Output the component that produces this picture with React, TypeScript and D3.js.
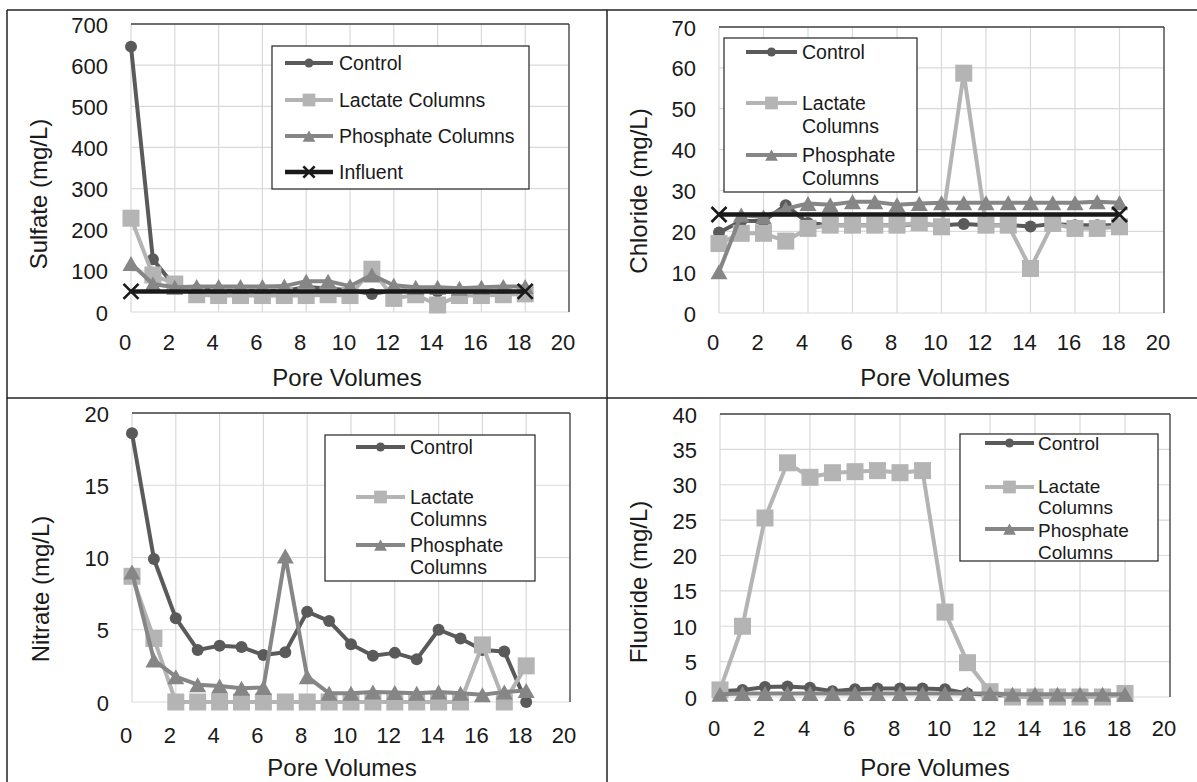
import React from "react";
import * as d3 from "d3";

// ---------- data ----------
const poreVolumes = [0, 1, 2, 3, 4, 5, 6, 7, 8, 9, 10, 11, 12, 13, 14, 15, 16, 17, 18];
const influentPV = [0, 18];
const xTicks = [0, 2, 4, 6, 8, 10, 12, 14, 16, 18, 20];

const sulfateControl = [645, 128, 62, 55, 52, 52, 52, 52, 60, 58, 52, 44, 52, 52, 50, 50, 50, 50, 48];
const sulfateLactate = [228, 90, 68, 42, 40, 40, 40, 40, 40, 42, 40, 104, 33, 42, 17, 40, 40, 42, 44];
const sulfatePhosphate = [118, 68, 60, 62, 62, 62, 62, 63, 75, 75, 63, 90, 65, 60, 60, 58, 60, 62, 62];
const sulfateInfluent = [50, 50];
const sulfateTicks = [0, 100, 200, 300, 400, 500, 600, 700];

const chlorideControl = [19.7, 22.5, 22.5, 26.4, 22, 21.5, 21.5, 21.5, 21.5, 21.8, 21.5, 21.8, 21.5, 21.5, 21.2, 21.8, 21.5, 21.5, 21.5];
const chlorideLactate = [17.0, 19.5, 19.5, 17.6, 20.7, 21.5, 21.5, 21.5, 21.5, 22.1, 21.1, 58.7, 21.5, 21.5, 10.9, 21.9, 20.7, 20.7, 21.1];
const chloridePhosphate = [10.1, 24, 23.5, 25.5, 26.8, 26.5, 27.2, 27.2, 26.5, 26.8, 27, 27, 27, 27, 27, 27, 27, 27.2, 27];
const chlorideInfluent = [24.1, 24.1];
const chlorideTicks = [0, 10, 20, 30, 40, 50, 60, 70];

const nitrateControl = [18.6, 9.9, 5.8, 3.6, 3.9, 3.8, 3.25, 3.45, 6.25, 5.6, 4.0, 3.2, 3.4, 2.95, 5.0, 4.4, 3.6, 3.5, 0];
const nitrateLactate = [8.7, 4.4, 0, 0, 0, 0, 0, 0, 0, 0, 0, 0, 0, 0, 0, 0, 3.95, 0, 2.5];
const nitratePhosphate = [9.0, 2.9, 1.75, 1.2, 1.1, 0.95, 1.0, 10.1, 1.75, 0.6, 0.6, 0.7, 0.65, 0.6, 0.7, 0.6, 0.5, 0.7, 0.8];
const nitrateTicks = [0, 5, 10, 15, 20];

const fluorideControl = [0.8, 1.0, 1.4, 1.5, 1.3, 0.8, 1.1, 1.2, 1.2, 1.2, 1.1, 0.5, 0.3, 0.2, 0.2, 0.2, 0.2, 0.2, 0.3];
const fluorideLactate = [1.0, 10.0, 25.3, 33.1, 31.05, 31.7, 31.85, 32.0, 31.7, 32.0, 12.0, 4.85, 0.75, 0, 0, 0, 0, 0, 0.5];
const fluoridePhosphate = [0.4, 0.5, 0.5, 0.5, 0.5, 0.5, 0.5, 0.5, 0.5, 0.5, 0.5, 0.5, 0.5, 0.4, 0.4, 0.4, 0.4, 0.4, 0.4];
const fluorideTicks = [0, 5, 10, 15, 20, 25, 30, 35, 40];

// ---------- styles ----------
const FONT = "'Liberation Sans', Arial, sans-serif";
const TXT = "#1a1a1a";
const COLORS: Record<string, string> = {
  circle: "#5a5a5a",
  square: "#b4b4b4",
  triangle: "#868686",
  cross: "#1a1a1a",
};

type Series = { xs: number[]; ys: number[]; marker: "circle" | "square" | "triangle" | "cross" };
type LegendItem = { marker: Series["marker"]; lines: string[]; y: number; lineYs: number[] };

function Marker({ kind, x, y, small }: { kind: string; x: number; y: number; small?: boolean }) {
  const c = COLORS[kind];
  const k = small ? 0.75 : 1;
  if (kind === "circle") return <circle cx={x} cy={y} r={6 * k} fill={c} />;
  if (kind === "square") {
    const s = 17 * k;
    return <rect x={x - s / 2} y={y - s / 2} width={s} height={s} fill={c} />;
  }
  if (kind === "triangle") {
    const w = 8.5 * k, h = 7.5 * k;
    return <path d={`M${x},${y - h}L${x + w},${y + h}L${x - w},${y + h}Z`} fill={c} />;
  }
  const a = 7.5 * k;
  return (
    <g stroke={c} strokeWidth={2.6}>
      <line x1={x - a} y1={y - a} x2={x + a} y2={y + a} />
      <line x1={x - a} y1={y + a} x2={x + a} y2={y - a} />
    </g>
  );
}

function Panel(props: {
  left: number; right: number; top: number; bottom: number;
  yMax: number; yTicks: number[]; yTitle: string; yTitleX: number; yTitleY: number;
  xTitleX: number; xTitleY: number; xLabelY: number;
  series: Series[];
  legend: { x0: number; x1: number; y0: number; y1: number; lineX0: number; lineX1: number; textX: number; fontSize?: number; items: LegendItem[] };
}) {
  const { left, right, top, bottom, yMax, series, legend } = props;
  const x = d3.scaleLinear().domain([0, 20]).range([left, right]);
  const y = d3.scaleLinear().domain([0, yMax]).range([bottom, top]);
  const line = d3.line<[number, number]>().x((d) => x(d[0])).y((d) => y(d[1]));
  return (
    <g>
      {xTicks.map((t) => (
        <line key={"gx" + t} x1={x(t)} x2={x(t)} y1={top} y2={bottom} stroke="#d9d9d9" strokeWidth={1.2} />
      ))}
      {props.yTicks.map((t) => (
        <line key={"gy" + t} x1={left} x2={right} y1={y(t)} y2={y(t)} stroke="#d9d9d9" strokeWidth={1.2} />
      ))}
      <line x1={left} x2={right} y1={top} y2={top} stroke="#444" strokeWidth={1.3} />
      <line x1={right} x2={right} y1={top} y2={bottom} stroke="#444" strokeWidth={1.3} />
      {xTicks.map((t) => (
        <text key={"lx" + t} x={x(t) - 6} y={props.xLabelY} textAnchor="middle" dominantBaseline="central"
          fontSize={22} fontFamily={FONT} fill={TXT}>{t}</text>
      ))}
      {props.yTicks.map((t) => (
        <text key={"ly" + t} x={left - 23} y={y(t) + 1} textAnchor="end" dominantBaseline="central"
          fontSize={22} fontFamily={FONT} fill={TXT}>{t}</text>
      ))}
      <text x={props.xTitleX} y={props.xTitleY} textAnchor="middle" dominantBaseline="central" fontSize={24}
        fontFamily={FONT} fill={TXT}>Pore Volumes</text>
      <text transform={`translate(${props.yTitleX},${props.yTitleY}) rotate(-90)`} textAnchor="middle"
        dominantBaseline="central" fontSize={24} fontFamily={FONT} fill={TXT}>{props.yTitle}</text>
      {series.map((s, i) => {
        const pts = s.xs.map((v, j) => [v, s.ys[j]] as [number, number]);
        return (
          <g key={"s" + i}>
            <path d={line(pts) || ""} fill="none" stroke={COLORS[s.marker]} strokeWidth={s.marker === "cross" ? 4.5 : 4}
              strokeLinejoin="round" />
            {pts.map((p, j) => (
              <Marker key={j} kind={s.marker} x={x(p[0])} y={y(p[1])} />
            ))}
          </g>
        );
      })}
      <rect x={legend.x0} y={legend.y0} width={legend.x1 - legend.x0} height={legend.y1 - legend.y0}
        fill="#fff" stroke="#333" strokeWidth={1.3} />
      {legend.items.map((it, i) => (
        <g key={"lg" + i}>
          <line x1={legend.lineX0} x2={legend.lineX1} y1={it.y} y2={it.y} stroke={COLORS[it.marker]}
            strokeWidth={it.marker === "cross" ? 4.5 : 4} />
          <Marker kind={it.marker} x={(legend.lineX0 + legend.lineX1) / 2} y={it.y} small />
          {it.lines.map((ln, k) => (
            <text key={k} x={legend.textX} y={it.lineYs[k]} dominantBaseline="central" fontSize={legend.fontSize || 19.5}
              fontFamily={FONT} fill={TXT}>{ln}</text>
          ))}
        </g>
      ))}
    </g>
  );
}

export default function App() {
  const ctl = (ys: number[]): Series => ({ xs: poreVolumes, ys, marker: "circle" });
  const lac = (ys: number[]): Series => ({ xs: poreVolumes, ys, marker: "square" });
  const pho = (ys: number[]): Series => ({ xs: poreVolumes, ys, marker: "triangle" });
  const inf = (ys: number[]): Series => ({ xs: influentPV, ys, marker: "cross" });
  return (
    <svg width={1197} height={782} style={{ position: "absolute", left: 0, top: 0, background: "#fff" }}>
      <rect x={0} y={0} width={1197} height={782} fill="#fff" />
      <g stroke="#222" strokeWidth={1.5}>
        <line x1={7} x2={1197} y1={10} y2={10} />
        <line x1={7} x2={7} y1={10} y2={782} />
        <line x1={607} x2={607} y1={10} y2={782} />
        <line x1={7} x2={1197} y1={398} y2={398} />
      </g>
      <Panel left={131} right={569} top={24} bottom={312} yMax={700} yTicks={sulfateTicks}
        yTitle="Sulfate (mg/L)" yTitleX={38} yTitleY={194} xTitleX={347} xTitleY={377} xLabelY={342}
        series={[ctl(sulfateControl), lac(sulfateLactate), pho(sulfatePhosphate), inf(sulfateInfluent)]}
        legend={{
          x0: 272, x1: 529, y0: 46, y1: 189, lineX0: 285, lineX1: 333, textX: 339,
          items: [
            { marker: "circle", lines: ["Control"], y: 63, lineYs: [63] },
            { marker: "square", lines: ["Lactate Columns"], y: 100, lineYs: [100] },
            { marker: "triangle", lines: ["Phosphate Columns"], y: 136, lineYs: [136] },
            { marker: "cross", lines: ["Influent"], y: 172, lineYs: [172] },
          ],
        }} />
      <Panel left={719} right={1164} top={27} bottom={313} yMax={70} yTicks={chlorideTicks}
        yTitle="Chloride (mg/L)" yTitleX={638} yTitleY={191} xTitleX={935} xTitleY={377} xLabelY={342}
        series={[ctl(chlorideControl), lac(chlorideLactate), pho(chloridePhosphate), inf(chlorideInfluent)]}
        legend={{
          x0: 724, x1: 917, y0: 38, y1: 192, lineX0: 746, lineX1: 797, textX: 802,
          items: [
            { marker: "circle", lines: ["Control"], y: 52, lineYs: [52] },
            { marker: "square", lines: ["Lactate", "Columns"], y: 103, lineYs: [103, 126] },
            { marker: "triangle", lines: ["Phosphate", "Columns"], y: 155, lineYs: [155, 178] },
          ],
        }} />
      <Panel left={132} right={570} top={413} bottom={702} yMax={20} yTicks={nitrateTicks}
        yTitle="Nitrate (mg/L)" yTitleX={40} yTitleY={589} xTitleX={342} xTitleY={767} xLabelY={735}
        series={[ctl(nitrateControl), lac(nitrateLactate), pho(nitratePhosphate)]}
        legend={{
          x0: 325, x1: 535, y0: 435, y1: 581, lineX0: 356, lineX1: 405, textX: 410,
          items: [
            { marker: "circle", lines: ["Control"], y: 447, lineYs: [447] },
            { marker: "square", lines: ["Lactate", "Columns"], y: 497, lineYs: [497, 519] },
            { marker: "triangle", lines: ["Phosphate", "Columns"], y: 545, lineYs: [545, 567] },
          ],
        }} />
      <Panel left={720} right={1170} top={414} bottom={697} yMax={40} yTicks={fluorideTicks}
        yTitle="Fluoride (mg/L)" yTitleX={638} yTitleY={582} xTitleX={935} xTitleY={767} xLabelY={728}
        series={[ctl(fluorideControl), lac(fluorideLactate), pho(fluoridePhosphate)]}
        legend={{
          x0: 960, x1: 1158, y0: 434, y1: 561, lineX0: 985, lineX1: 1034, textX: 1038, fontSize: 19,
          items: [
            { marker: "circle", lines: ["Control"], y: 443, lineYs: [443] },
            { marker: "square", lines: ["Lactate", "Columns"], y: 487, lineYs: [486, 507] },
            { marker: "triangle", lines: ["Phosphate", "Columns"], y: 529, lineYs: [530, 552] },
          ],
        }} />
    </svg>
  );
}
